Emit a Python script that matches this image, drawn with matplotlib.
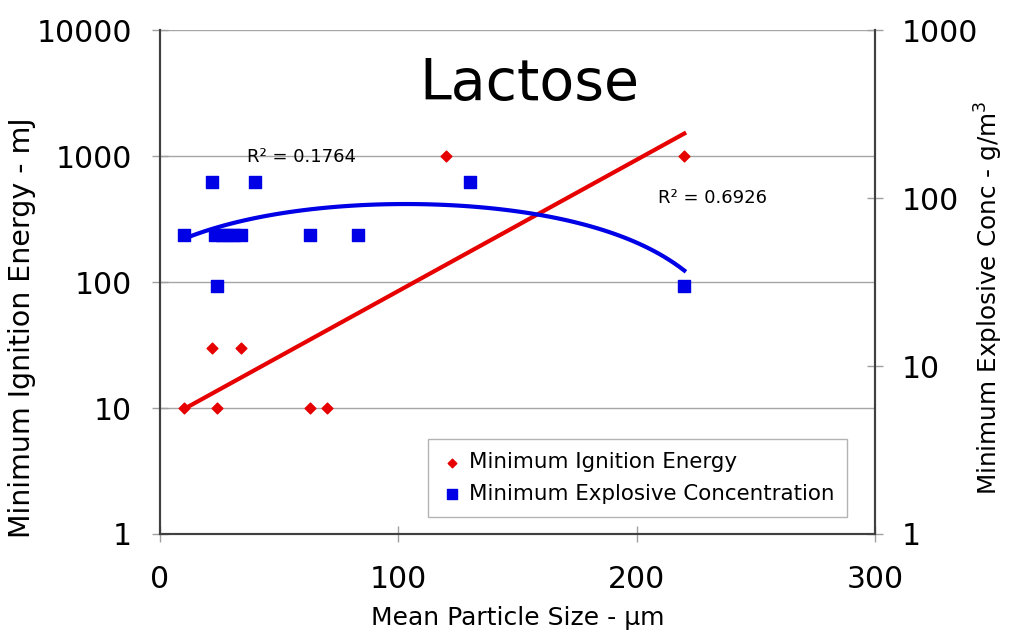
import matplotlib
matplotlib.use("Agg")
import matplotlib.pyplot as plt
import numpy as np

# particle size (um) vs minimum ignition energy (mJ)
mie_size = [10, 22, 24, 34, 63, 70, 120, 220]
mie_energy = [10, 30, 10, 30, 10, 10, 1000, 1000]

# particle size (um) vs minimum explosive concentration (g/m3)
mec_size = [10, 22, 23, 24, 26, 28.5, 31, 34, 40, 63, 83, 130, 220]
mec_conc = [60, 125, 60, 30, 60, 60, 60, 60, 125, 60, 60, 125, 30]

r2_mec = "R² = 0.1764"
r2_mie = "R² = 0.6926"

RED = "#e60000"
BLUE = "#0000e6"
AXIS = "#404040"

plt.rcParams["font.family"] = ["DejaVu Sans"]

fig = plt.figure(figsize=(10.11, 6.33), dpi=100)
ax = fig.add_axes([0.158, 0.1564, 0.7075, 0.7962])
ax2 = ax.twinx()

# left axis: MIE
ax.set_yscale("log")
ax.set_ylim(1, 10000)
ax.set_xlim(0, 300)
ax.set_yticks([1, 10, 100, 1000, 10000])
ax.set_yticklabels(["1", "10", "100", "1000", "10000"])
ax.set_xticks([0, 100, 200, 300])
ax.minorticks_off()
ax.yaxis.grid(True, color="#a6a6a6", lw=1)
ax.set_axisbelow(True)

ax.scatter(mie_size, mie_energy, marker="D", s=30, color=RED, zorder=3,
           label="Minimum Ignition Energy")

# exponential trendline (fit on log of y)
b, a = np.polyfit(mie_size, np.log10(mie_energy), 1)
xs = np.linspace(min(mie_size), max(mie_size), 100)
ax.plot(xs, 10 ** (a + b * xs), color=RED, lw=3, zorder=2)

# right axis: MEC
ax2.set_yscale("log")
ax2.set_ylim(1, 1000)
ax2.set_yticks([1, 10, 100, 1000])
ax2.set_yticklabels(["1", "10", "100", "1000"])
ax2.minorticks_off()

ax2.scatter(mec_size, mec_conc, marker="s", s=70, color=BLUE, zorder=3,
            label="Minimum Explosive Concentration")

# 2nd order polynomial trendline
p = np.polyfit(mec_size, mec_conc, 2)
xs2 = np.linspace(min(mec_size), max(mec_size), 100)
ax2.plot(xs2, np.polyval(p, xs2), color=BLUE, lw=3, zorder=2)

for a_ in (ax, ax2):
    for s in a_.spines.values():
        s.set_color(AXIS)
        s.set_linewidth(1.5)
    a_.spines["top"].set_visible(False)
    a_.tick_params(axis="both", direction="inout", length=12, width=1,
                   color="#a0a0a0", labelsize=21.5)
ax.tick_params(axis="y", pad=14)
ax.tick_params(axis="x", pad=16)
ax2.tick_params(axis="y", pad=13)

ax.set_xlabel("Mean Particle Size - µm", fontsize=18, labelpad=9)
fig.text(0.0218, 0.482, "Minimum Ignition Energy - mJ", rotation=90,
         fontsize=20.5, ha="center", va="center")
fig.text(0.978, 0.529, "Minimum Explosive Conc - g/m$^3$", rotation=90,
         fontsize=17.8, ha="center", va="center")

ax.text(0.517, 0.862, "Lactose", transform=ax.transAxes, fontsize=41,
        ha="center", va="baseline")
ax.text(0.122, 0.748, r2_mec, transform=ax.transAxes, fontsize=13,
        ha="left", va="center")
ax.text(0.697, 0.666, r2_mie, transform=ax.transAxes, fontsize=13,
        ha="left", va="center")

h1, l1 = ax.get_legend_handles_labels()
h2, l2 = ax2.get_legend_handles_labels()
leg = ax2.legend(h1 + h2, l1 + l2, loc="lower right",
                 bbox_to_anchor=(0.961, 0.034), borderaxespad=0,
                 fontsize=15.4, fancybox=False, edgecolor="#a0a0a0",
                 handletextpad=0.3, handlelength=1.0, markerscale=0.8,
                 borderpad=0.6, labelspacing=0.55)
leg.get_frame().set_linewidth(1)

fig.savefig("out.png", dpi=100)
